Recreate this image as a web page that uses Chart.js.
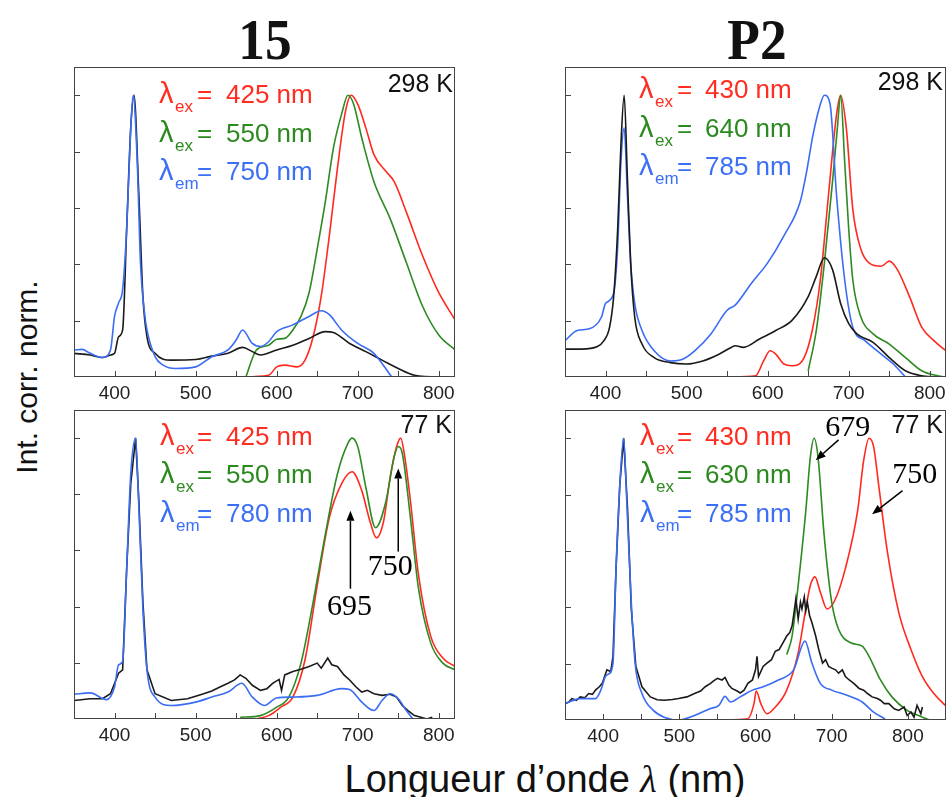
<!DOCTYPE html>
<html>
<head>
<meta charset="utf-8">
<script src="https://cdn.jsdelivr.net/npm/chart.js@4.4.0/dist/chart.umd.min.js"></script>
<style>
body{margin:0;background:#fff;width:946px;height:797px;overflow:hidden;position:relative;font-family:"Liberation Sans",Arial,sans-serif;color:#111}
canvas{position:absolute}
.title{position:absolute;top:11px;font-family:"Liberation Serif",serif;font-weight:bold;font-size:58px;line-height:58px;transform:translateX(-50%) scaleX(0.92)}
#ylab{position:absolute;left:27px;top:377px;font-size:30px;white-space:nowrap;transform:translate(-50%,-50%) rotate(-90deg)}
#xlab{position:absolute;left:545px;top:760px;font-size:38px;line-height:38px;white-space:nowrap;transform:translateX(-50%)}
#xlab i{font-family:"Liberation Serif",serif}
</style>
</head>
<body>
<div class="title" style="left:265px">15</div>
<div class="title" style="left:757px">P2</div>
<div id="ylab">Int. corr. norm.</div>
<div id="xlab">Longueur d’onde <i>λ</i> (nm)</div>
<canvas id="c1" width="401" height="356" style="left:64px;top:57px"></canvas>
<canvas id="c2" width="401" height="356" style="left:555px;top:57px"></canvas>
<canvas id="c3" width="401" height="355" style="left:64px;top:400px"></canvas>
<canvas id="c4" width="401" height="356" style="left:555px;top:400px"></canvas>
<script>
// tick labels and inner tick marks
const xLabels = [400, 500, 600, 700, 800]
const xMarks = [400, 450, 500, 550, 600, 650, 700, 750, 800]
const yMarks = [0.2, 0.4, 0.6, 0.8, 1.0]

// 15, 298 K
const wl_15_298_k = [350,370,385,395,400,405,410,415,420,424,430,435,440,450,470,500,520,540,558,570,580,600,620,640,660,670,690,710,730,750,770,800,820]
const in_15_298_k = [0.084,0.078,0.069,0.078,0.084,0.143,0.167,0.526,0.884,1.0,0.645,0.287,0.143,0.084,0.060,0.062,0.074,0.084,0.105,0.090,0.078,0.096,0.113,0.137,0.161,0.158,0.119,0.090,0.060,0.030,0.006,0,0]
const wl_15_298_b = [350,360,370,385,395,400,405,410,415,420,423,428,432,437,440,450,460,475,500,520,540,550,558,570,580,590,600,620,640,655,665,680,700,720,730,742]
const in_15_298_b = [0.096,0.098,0.084,0.069,0.096,0.215,0.263,0.311,0.526,0.884,1.0,0.765,0.406,0.227,0.167,0.072,0.042,0.030,0.036,0.072,0.096,0.131,0.167,0.119,0.108,0.125,0.161,0.185,0.215,0.235,0.221,0.167,0.119,0.084,0.048,0]
const wl_15_298_g = [562,575,590,600,610,620,630,640,650,660,670,680,688,695,705,720,740,760,780,800,820]
const in_15_298_g = [0,0.096,0.113,0.134,0.137,0.167,0.215,0.299,0.454,0.621,0.812,0.932,1.0,0.968,0.848,0.693,0.562,0.406,0.251,0.149,0.096]
const wl_15_298_r = [555,590,600,610,625,635,645,655,665,675,685,692,700,710,720,735,745,760,780,800,820]
const in_15_298_r = [0,0.006,0.036,0.042,0.036,0.060,0.143,0.287,0.502,0.741,0.944,1.0,0.968,0.884,0.789,0.729,0.693,0.585,0.430,0.299,0.203]

// P2, 298 K
const wl_p2_298_k = [350,370,390,398,405,410,415,419,423,427,431,436,445,460,480,500,520,540,555,560,570,590,610,630,650,660,670,680,690,700,710,730,750,770,790,810,820]
const in_p2_298_k = [0.099,0.099,0.108,0.129,0.177,0.285,0.525,0.824,1.0,0.704,0.405,0.213,0.117,0.069,0.051,0.046,0.057,0.081,0.105,0.111,0.105,0.135,0.165,0.201,0.285,0.357,0.423,0.381,0.261,0.189,0.153,0.123,0.069,0.022,0.004,0,0]
const wl_p2_298_b = [350,365,380,395,400,410,415,419,423,427,431,436,445,460,480,495,510,530,550,560,580,600,620,640,648,656,665,670,677,685,695,705,720,740,755,770]
const in_p2_298_b = [0.129,0.165,0.171,0.213,0.261,0.297,0.465,0.764,0.884,0.644,0.405,0.261,0.165,0.093,0.057,0.063,0.093,0.153,0.237,0.255,0.333,0.405,0.501,0.621,0.728,0.860,0.968,1.0,0.968,0.644,0.345,0.177,0.129,0.081,0.046,0]
const wl_p2_298_g = [650,660,670,680,686,690,695,700,705,715,730,750,770,790,810,820]
const in_p2_298_g = [0.022,0.165,0.405,0.693,0.884,1.0,0.764,0.525,0.345,0.213,0.153,0.117,0.069,0.022,0.004,0]
const wl_p2_298_r = [555,585,595,603,610,620,630,645,655,665,675,685,690,697,705,715,725,740,750,760,775,790,805,820]
const in_p2_298_r = [0,0.004,0.057,0.093,0.081,0.046,0.040,0.069,0.165,0.345,0.644,0.932,1.0,0.884,0.596,0.453,0.405,0.393,0.411,0.381,0.285,0.177,0.129,0.093]

// 15, 77 K
const wl_15_77_k = [350,370,385,395,405,410,415,420,426,430,435,440,450,470,490,500,510,520,530,540,548,555,562,570,580,588,595,603,606,610,620,630,640,650,655,663,668,675,683,690,698,705,712,720,730,740,748,755,762,770,778,785,792]
const in_15_77_k = [0.066,0.072,0.072,0.090,0.163,0.175,0.536,0.837,1.0,0.777,0.416,0.175,0.090,0.066,0.072,0.081,0.090,0.100,0.114,0.127,0.139,0.157,0.145,0.120,0.102,0.108,0.127,0.141,0.102,0.157,0.169,0.177,0.187,0.199,0.181,0.217,0.193,0.187,0.157,0.139,0.114,0.096,0.102,0.090,0.084,0.088,0.078,0.048,0.030,0.012,0.006,0,0.006]
const wl_15_77_b = [350,370,390,400,405,410,415,420,426,430,435,440,450,470,500,520,540,557,570,585,600,620,650,680,690,705,720,730,740,750,760,768]
const in_15_77_b = [0.088,0.093,0.069,0.114,0.193,0.205,0.536,0.873,1.0,0.753,0.392,0.175,0.078,0.048,0.060,0.078,0.096,0.127,0.078,0.048,0.075,0.078,0.084,0.108,0.105,0.060,0.030,0.066,0.090,0.072,0.030,0]
const wl_15_77_g = [555,580,600,615,630,645,660,675,688,693,700,710,722,735,745,750,755,765,775,790,805,820]
const in_15_77_g = [0.006,0.012,0.042,0.078,0.199,0.416,0.657,0.873,0.982,1.0,0.970,0.825,0.681,0.777,0.934,0.970,0.946,0.717,0.464,0.271,0.199,0.175]
const wl_15_77_r = [575,590,605,620,635,650,665,680,693,705,715,723,732,740,748,753,758,765,775,790,805,820]
const in_15_77_r = [0,0.012,0.042,0.078,0.211,0.476,0.717,0.837,0.880,0.813,0.705,0.645,0.705,0.861,0.970,1.0,0.934,0.777,0.512,0.295,0.217,0.187]

// P2, 77 K
const wl_p2_77_k = [350,355,359,365,370,376,381,386,390,395,399,405,410,413,417,422,427,432,437,443,451,462,471,480,491,499,510,520,528,534,541,545,550,556,560,565,569,576,580,585,590,596,600,602,604,610,615,621,626,631,636,641,645,648,650,653,656,659,661,664,666,668,671,674,679,683,688,692,696,700,705,709,714,718,723,729,736,742,747,753,760,764,769,775,782,788,795,799,804,808,812,817,819]
const in_p2_77_k = [0.058,0.064,0.076,0.070,0.082,0.079,0.094,0.091,0.106,0.118,0.130,0.178,0.172,0.226,0.538,0.838,1.0,0.754,0.394,0.190,0.118,0.082,0.072,0.070,0.073,0.076,0.082,0.094,0.103,0.118,0.130,0.139,0.148,0.142,0.151,0.124,0.112,0.103,0.096,0.106,0.130,0.142,0.178,0.226,0.154,0.190,0.202,0.214,0.244,0.250,0.274,0.298,0.310,0.334,0.370,0.430,0.358,0.418,0.394,0.436,0.388,0.418,0.370,0.346,0.298,0.250,0.202,0.214,0.190,0.184,0.178,0.166,0.178,0.154,0.142,0.130,0.112,0.106,0.094,0.082,0.076,0.070,0.058,0.058,0.040,0.034,0.046,0.016,0.028,0.010,0.052,0.022,0.046]
const wl_p2_77_b = [350,370,390,397,403,407,413,417,422,427,431,437,442,451,466,480,500,520,540,552,560,567,580,596,610,630,650,665,674,685,700,720,740,755,770]
const in_p2_77_b = [0.058,0.076,0.076,0.106,0.154,0.163,0.202,0.538,0.838,1.0,0.778,0.418,0.202,0.094,0.034,0.010,0,0.016,0.040,0.052,0.084,0.064,0.082,0.106,0.118,0.142,0.178,0.280,0.202,0.130,0.106,0.088,0.064,0.028,0.004]
const wl_p2_77_g = [641,648,656,666,672,677,682,690,700,709,725,740,749,764,779,799,819,828]
const in_p2_77_g = [0.232,0.298,0.478,0.742,0.934,1.0,0.934,0.658,0.418,0.322,0.274,0.262,0.226,0.142,0.082,0.034,0.010,0]
const wl_p2_77_r = [560,590,598,601,607,615,624,641,656,666,672,678,685,694,704,718,734,742,749,755,762,773,788,804,819,834,849]
const in_p2_77_r = [0,0.004,0.058,0.103,0.058,0.022,0.040,0.106,0.238,0.394,0.478,0.508,0.454,0.394,0.424,0.538,0.742,0.922,1.0,0.970,0.826,0.598,0.382,0.250,0.154,0.094,0.052]

// legend texts
const leg_15_298 = ['425 nm', '550 nm', '750 nm']
const leg_p2_298 = ['430 nm', '640 nm', '785 nm']
const leg_15_77 = ['425 nm', '550 nm', '780 nm']
const leg_p2_77 = ['430 nm', '630 nm', '785 nm']
const legSubs = ['ex', 'ex', 'em']

const RED = '#ff2a1f', GREEN = '#2e8a22', BLUE = '#3a6cf4', BLACK = '#1a1a1a'
const legColors = ['#ff2d20', '#2b8a1e', '#3b6ff5']
const SANS = '"Liberation Sans", Arial, sans-serif'

function pts(xs, ys) {
  return xs.map((x, i) => ({x: x, y: ys[i]}))
}

function line(xs, ys, color, noisy) {
  return {
    data: pts(xs, ys),
    borderColor: color,
    borderWidth: 1.6,
    pointRadius: 0,
    fill: false,
    tension: noisy ? 0 : 0.4,
    cubicInterpolationMode: noisy ? 'default' : 'monotone'
  }
}

const deco = {
  id: 'deco',
  afterDatasetsDraw(chart, args, o) {
    const ctx = chart.ctx, a = chart.chartArea
    const x = chart.scales.x, y = chart.scales.y
    ctx.save()
    ctx.strokeStyle = '#444'
    ctx.lineWidth = 1
    ctx.strokeRect(a.left + 0.5, a.top + 0.5, a.right - a.left - 1, a.bottom - a.top - 1)
    ctx.beginPath()
    xMarks.forEach(v => {
      const px = Math.round(x.getPixelForValue(v)) + 0.5
      ctx.moveTo(px, a.bottom)
      ctx.lineTo(px, a.bottom - 6)
    })
    yMarks.forEach(v => {
      const py = Math.round(y.getPixelForValue(v)) + 0.5
      ctx.moveTo(a.left, py)
      ctx.lineTo(a.left + 6, py)
    })
    ctx.stroke()

    ctx.textAlign = 'left'
    ctx.textBaseline = 'alphabetic'
    o.legend.forEach((txt, i) => {
      const base = a.top + o.base[i]
      ctx.fillStyle = legColors[i]
      ctx.font = '29px ' + SANS
      ctx.fillText('λ', a.left + o.lx - 1, base)
      ctx.font = '26px ' + SANS
      ctx.fillText('=', a.left + o.ex, base)
      ctx.fillText(txt, a.left + o.vx, base)
      ctx.font = '17px ' + SANS
      ctx.fillText(legSubs[i], a.left + o.lx + 15, base + 9)
    })

    ctx.fillStyle = '#111'
    ctx.font = '25px ' + SANS
    ctx.textAlign = 'right'
    ctx.fillText(o.temp, a.right - o.tr, a.top + o.tb)

    ctx.font = '30px "Liberation Serif", serif'
    ctx.textAlign = 'center'
    ctx.textBaseline = 'middle'
    ctx.strokeStyle = '#000'
    ctx.fillStyle = '#000'
    ctx.lineWidth = 1.5
    ;(o.arrows || []).forEach(ar => {
      const x0 = x.getPixelForValue(ar.from[0]), y0 = y.getPixelForValue(ar.from[1])
      const x1 = x.getPixelForValue(ar.to[0]), y1 = y.getPixelForValue(ar.to[1])
      const ang = Math.atan2(y1 - y0, x1 - x0)
      const hl = 10, hw = 4
      const bx = x1 - hl * Math.cos(ang), by = y1 - hl * Math.sin(ang)
      ctx.beginPath()
      ctx.moveTo(x0, y0)
      ctx.lineTo(bx, by)
      ctx.stroke()
      ctx.beginPath()
      ctx.moveTo(x1, y1)
      ctx.lineTo(bx + hw * Math.sin(ang), by - hw * Math.cos(ang))
      ctx.lineTo(bx - hw * Math.sin(ang), by + hw * Math.cos(ang))
      ctx.closePath()
      ctx.fill()
      ctx.fillText(ar.text, x.getPixelForValue(ar.at[0]), y.getPixelForValue(ar.at[1]))
    })
    ctx.restore()
  }
}

function panel(id, xmax, datasets, deco_opts) {
  new Chart(document.getElementById(id), {
    type: 'line',
    data: {datasets: datasets},
    plugins: [deco],
    options: {
      responsive: false,
      animation: false,
      layout: {padding: {left: 10, right: 10, top: 10, bottom: 0}},
      plugins: {legend: {display: false}, tooltip: {enabled: false}, deco: deco_opts},
      scales: {
        x: {
          type: 'linear', min: 350, max: xmax,
          afterBuildTicks: s => { s.ticks = xLabels.map(v => ({value: v})) },
          afterFit: s => { s.height = 36 },
          grid: {display: false, drawTicks: false},
          border: {display: false},
          ticks: {padding: 5, color: '#222', font: {family: SANS, size: 19}}
        },
        y: {
          min: 0, max: 1.1,
          afterFit: s => { s.width = 0 },
          grid: {display: false},
          border: {display: false},
          ticks: {display: false}
        }
      }
    }
  })
}

// first dataset is drawn on top
panel('c1', 820, [
  line(wl_15_298_b, in_15_298_b, BLUE),
  line(wl_15_298_k, in_15_298_k, BLACK),
  line(wl_15_298_g, in_15_298_g, GREEN),
  line(wl_15_298_r, in_15_298_r, RED)
], {legend: leg_15_298, lx: 86, ex: 123, vx: 152, base: [36, 75, 113], temp: '298 K', tr: 2, tb: 25})

panel('c2', 820, [
  line(wl_p2_298_k, in_p2_298_k, BLACK),
  line(wl_p2_298_b, in_p2_298_b, BLUE),
  line(wl_p2_298_g, in_p2_298_g, GREEN),
  line(wl_p2_298_r, in_p2_298_r, RED)
], {legend: leg_p2_298, lx: 75, ex: 112, vx: 140, base: [31, 70, 108], temp: '298 K', tr: 3, tb: 23})

panel('c3', 820, [
  line(wl_15_77_b, in_15_77_b, BLUE),
  line(wl_15_77_k, in_15_77_k, BLACK, true),
  line(wl_15_77_g, in_15_77_g, GREEN),
  line(wl_15_77_r, in_15_77_r, RED)
], {legend: leg_15_77, lx: 87, ex: 123, vx: 152, base: [35, 73, 112], temp: '77 K', tr: 3, tb: 23,
  arrows: [
    {text: '695', from: [691, 0.464], to: [691, 0.741], at: [690, 0.398]},
    {text: '750', from: [750, 0.596], to: [750, 0.892], at: [740, 0.542]}
  ]})

panel('c4', 850, [
  line(wl_p2_77_b, in_p2_77_b, BLUE),
  line(wl_p2_77_k, in_p2_77_k, BLACK, true),
  line(wl_p2_77_g, in_p2_77_g, GREEN),
  line(wl_p2_77_r, in_p2_77_r, RED)
], {legend: leg_p2_77, lx: 76, ex: 112, vx: 140, base: [35, 73, 112], temp: '77 K', tr: 3, tb: 23,
  arrows: [
    {text: '679', from: [709, 0.994], to: [679, 0.922], at: [721, 1.036]},
    {text: '750', from: [793, 0.814], to: [753, 0.730], at: [809, 0.868]}
  ]})
</script>
</body>
</html>
